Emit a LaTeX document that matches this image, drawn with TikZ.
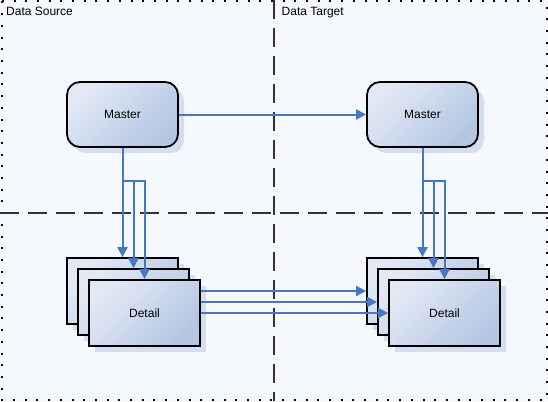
\documentclass[tikz,border=0pt]{standalone}
\usepackage{fontspec}
\setmainfont{Liberation Sans}
\usetikzlibrary{arrows.meta,shadows}
\definecolor{bgc}{HTML}{F5F8FC}
\definecolor{topc}{HTML}{E2E9F5}
\definecolor{botc}{HTML}{B3C6E2}
\definecolor{shc}{HTML}{D3DEEE}
\definecolor{arrc}{HTML}{4677C5}
\definecolor{dashc}{HTML}{333333}
\begin{document}
\begin{tikzpicture}[x=1pt,y=-1pt,
  font=\fontsize{12}{14}\selectfont,
  box/.style={draw=black, line width=1.8pt, top color=topc, bottom color=botc,
    shading angle=45, minimum width=111pt, minimum height=66pt, inner sep=0pt,
    drop shadow={shadow xshift=6pt, shadow yshift=-6pt, fill=shc, opacity=1}},
  masterbox/.style={box, rounded corners=13pt, minimum height=65pt},
  arr/.style={draw=arrc, line width=2pt, -{Triangle[length=10pt,width=10pt]}},
  dotframe/.style={line width=2pt, dash pattern=on 2pt off 9.7pt},
  divider/.style={draw=dashc, line width=2pt, dash pattern=on 19pt off 9pt},
  lbl/.style={anchor=base west, inner sep=0pt}]
\useasboundingbox (0,0) rectangle (548,401);
\fill[bgc] (0,0) rectangle (548,401);
\draw[dotframe] (1.5,1.5) rectangle (546.5,399.5);
\draw[divider] (274,0) -- (274,401);
\draw[divider] (0,213) -- (548,213);
\node[lbl] (ds) at (6,15.7) {Data Source};
\node[lbl] (dt) at (281.5,15.7) {Data Target};
% masters
\node[masterbox] (mL) at (122.5,114.5) {Master};
\node[masterbox] (mR) at (422.5,114.5) {Master};
% details left
\node[box] (dLb) at (122.5,291) {};
\node[box] (dLm) at (133.5,302) {};
\node[box] (dLf) at (144.5,313) {Detail};
% details right
\node[box] (dRb) at (422.5,291) {};
\node[box] (dRm) at (433.5,302) {};
\node[box] (dRf) at (444.5,313) {Detail};
% branch points
\coordinate (bL) at (122.5,181);
\coordinate (bR) at (422.5,181);
% arrows
\draw[arr] (mL.east) -- (mR.west);
\draw[arr] (mL.south) -- (dLb.north);
\draw[arr] (bL) -| (dLm.north);
\draw[arr] (bL) -| (dLf.north);
\draw[arr] (mR.south) -- (dRb.north);
\draw[arr] (bR) -| (dRm.north);
\draw[arr] (bR) -| (dRf.north);
\draw[arr] (dLf.east |- dRb.west) -- (dRb.west);
\draw[arr] (dLf.east |- dRm.west) -- (dRm.west);
\draw[arr] (dLf.east |- dRf.west) -- (dRf.west);
\end{tikzpicture}
\end{document}
